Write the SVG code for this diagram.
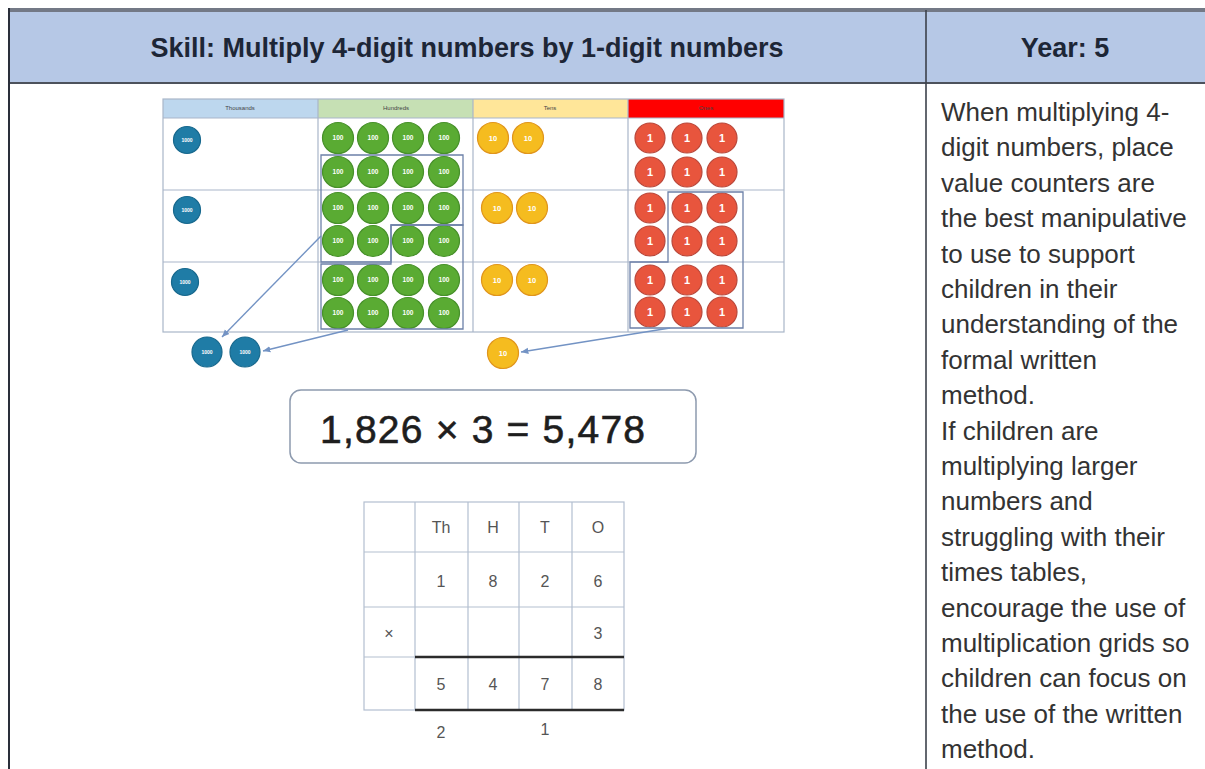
<svg xmlns="http://www.w3.org/2000/svg" width="1205" height="769" viewBox="0 0 1205 769">
<defs>
<style>
.hdr{font-family:"Liberation Sans",Arial,sans-serif;font-weight:bold;font-size:27px;fill:#1d2636;text-anchor:middle}
.note{font-family:"Liberation Sans",Arial,sans-serif;font-size:26px;fill:#333}
.grid{stroke:#a9b6c9;stroke-width:1.2;fill:none}
.colhead{font-family:"Liberation Sans",Arial,sans-serif;font-size:6px;fill:#444;text-anchor:middle}
.th{fill:#1f7ca6;stroke:#17688d;stroke-width:1.2}
.hu{fill:#5aab33;stroke:#47902a;stroke-width:1.2}
.te{fill:#f5bc1f;stroke:#e0951c;stroke-width:1.2}
.on{fill:#e8553d;stroke:#b9473a;stroke-width:1.2}
.lbl{font-family:"Liberation Sans",Arial,sans-serif;fill:#fff;font-weight:bold;text-anchor:middle}
.grp{fill:none;stroke:#6c80a8;stroke-width:1.3}
.conn{stroke:#7393c4;stroke-width:1.4;fill:none;marker-end:url(#ah)}
.cm{font-family:"Liberation Sans",Arial,sans-serif;font-size:16px;fill:#555;text-anchor:middle}
.cgrid{stroke:#b3bfd0;stroke-width:1.2;fill:none}
</style>
<marker id="ah" viewBox="0 0 8 8" refX="7" refY="4" markerWidth="6" markerHeight="6" orient="auto">
<path d="M0,1 L7,4 L0,7 z" fill="#7393c4"/>
</marker>
</defs>
<rect x="0" y="0" width="1205" height="769" fill="#ffffff"/>

<g id="header">
<rect x="9" y="10" width="1196" height="73" fill="#b6c8e6"/>
<line x1="9" y1="10" x2="1205" y2="10" stroke="#737986" stroke-width="4"/>
<line x1="9" y1="83" x2="1205" y2="83" stroke="#4d525c" stroke-width="2"/>
<line x1="9" y1="8" x2="9" y2="769" stroke="#2a2f3a" stroke-width="2"/>
<line x1="926" y1="10" x2="926" y2="769" stroke="#3c414b" stroke-width="1.6"/>
<text class="hdr" x="467" y="57">Skill: Multiply 4-digit numbers by 1-digit numbers</text>
<text class="hdr" x="1065" y="57">Year: 5</text>
</g>

<g id="place-value-chart">
<rect x="163" y="99" width="155" height="19" fill="#bdd7ee"/>
<rect x="318" y="99" width="155" height="19" fill="#c6e0b4"/>
<rect x="473" y="99" width="155" height="19" fill="#ffe699"/>
<rect x="628" y="99" width="156" height="19" fill="#ff0000"/>
<rect class="grid" x="163" y="99" width="621" height="233"/>
<line class="grid" x1="163" y1="118" x2="784" y2="118"/>
<line class="grid" x1="163" y1="190" x2="784" y2="190"/>
<line class="grid" x1="163" y1="262" x2="784" y2="262"/>
<line class="grid" x1="318" y1="99" x2="318" y2="332"/>
<line class="grid" x1="473" y1="99" x2="473" y2="332"/>
<line class="grid" x1="628" y1="99" x2="628" y2="332"/>
<text class="colhead" x="240" y="110">Thousands</text>
<text class="colhead" x="396" y="110">Hundreds</text>
<text class="colhead" x="550" y="110">Tens</text>
<text class="colhead" x="706" y="110">Ones</text>
</g>

<g id="thousands-counters">
<circle class="th" cx="187" cy="140" r="13.5"/><text class="lbl" x="187" y="142" font-size="5">1000</text>
<circle class="th" cx="187" cy="210" r="13.5"/><text class="lbl" x="187" y="212" font-size="5">1000</text>
<circle class="th" cx="185" cy="282" r="13.5"/><text class="lbl" x="185" y="284" font-size="5">1000</text>
</g>

<g id="hundreds-counters">
<g>
<circle class="hu" cx="338" cy="138" r="15.5"/><circle class="hu" cx="373" cy="138" r="15.5"/><circle class="hu" cx="408" cy="138" r="15.5"/><circle class="hu" cx="444" cy="138" r="15.5"/>
<circle class="hu" cx="338" cy="172" r="15.5"/><circle class="hu" cx="373" cy="172" r="15.5"/><circle class="hu" cx="408" cy="172" r="15.5"/><circle class="hu" cx="444" cy="172" r="15.5"/>
<circle class="hu" cx="338" cy="208" r="15.5"/><circle class="hu" cx="373" cy="208" r="15.5"/><circle class="hu" cx="408" cy="208" r="15.5"/><circle class="hu" cx="444" cy="208" r="15.5"/>
<circle class="hu" cx="338" cy="241" r="15.5"/><circle class="hu" cx="373" cy="241" r="15.5"/><circle class="hu" cx="408" cy="241" r="15.5"/><circle class="hu" cx="444" cy="241" r="15.5"/>
<circle class="hu" cx="338" cy="280" r="15.5"/><circle class="hu" cx="373" cy="280" r="15.5"/><circle class="hu" cx="408" cy="280" r="15.5"/><circle class="hu" cx="444" cy="280" r="15.5"/>
<circle class="hu" cx="338" cy="313" r="15.5"/><circle class="hu" cx="373" cy="313" r="15.5"/><circle class="hu" cx="408" cy="313" r="15.5"/><circle class="hu" cx="444" cy="313" r="15.5"/>
</g>
<g class="lbl" font-size="6.5">
<text x="338" y="140">100</text><text x="373" y="140">100</text><text x="408" y="140">100</text><text x="444" y="140">100</text>
<text x="338" y="174">100</text><text x="373" y="174">100</text><text x="408" y="174">100</text><text x="444" y="174">100</text>
<text x="338" y="210">100</text><text x="373" y="210">100</text><text x="408" y="210">100</text><text x="444" y="210">100</text>
<text x="338" y="243">100</text><text x="373" y="243">100</text><text x="408" y="243">100</text><text x="444" y="243">100</text>
<text x="338" y="282">100</text><text x="373" y="282">100</text><text x="408" y="282">100</text><text x="444" y="282">100</text>
<text x="338" y="315">100</text><text x="373" y="315">100</text><text x="408" y="315">100</text><text x="444" y="315">100</text>
</g>
<polygon class="grp" points="321,155 463,155 463,225 391,225 391,262 321,262"/>
<polygon class="grp" points="391,225 463,225 463,329 321,329 321,264 391,264"/>
</g>

<g id="tens-counters">
<circle class="te" cx="493" cy="138" r="15.5"/><circle class="te" cx="528" cy="138" r="15.5"/>
<circle class="te" cx="497" cy="208" r="15.5"/><circle class="te" cx="532" cy="208" r="15.5"/>
<circle class="te" cx="497" cy="280" r="15.5"/><circle class="te" cx="532" cy="280" r="15.5"/>
<g class="lbl" font-size="7.5">
<text x="493" y="141">10</text><text x="528" y="141">10</text>
<text x="497" y="211">10</text><text x="532" y="211">10</text>
<text x="497" y="283">10</text><text x="532" y="283">10</text>
</g>
</g>

<g id="ones-counters">
<circle class="on" cx="650" cy="138" r="15"/><circle class="on" cx="687" cy="138" r="15"/><circle class="on" cx="722" cy="138" r="15"/>
<circle class="on" cx="650" cy="172" r="15"/><circle class="on" cx="687" cy="172" r="15"/><circle class="on" cx="722" cy="172" r="15"/>
<circle class="on" cx="650" cy="208" r="15"/><circle class="on" cx="687" cy="208" r="15"/><circle class="on" cx="722" cy="208" r="15"/>
<circle class="on" cx="650" cy="241" r="15"/><circle class="on" cx="687" cy="241" r="15"/><circle class="on" cx="722" cy="241" r="15"/>
<circle class="on" cx="650" cy="280" r="15"/><circle class="on" cx="687" cy="280" r="15"/><circle class="on" cx="722" cy="280" r="15"/>
<circle class="on" cx="650" cy="312" r="15"/><circle class="on" cx="687" cy="312" r="15"/><circle class="on" cx="722" cy="312" r="15"/>
<g class="lbl" font-size="11" fill="#fff4d0">
<text x="650" y="142">1</text><text x="687" y="142">1</text><text x="722" y="142">1</text>
<text x="650" y="176">1</text><text x="687" y="176">1</text><text x="722" y="176">1</text>
<text x="650" y="212">1</text><text x="687" y="212">1</text><text x="722" y="212">1</text>
<text x="650" y="245">1</text><text x="687" y="245">1</text><text x="722" y="245">1</text>
<text x="650" y="284">1</text><text x="687" y="284">1</text><text x="722" y="284">1</text>
<text x="650" y="316">1</text><text x="687" y="316">1</text><text x="722" y="316">1</text>
</g>
<polygon class="grp" points="668,192 743,192 743,328 630,328 630,262 668,262"/>
</g>

<g id="exchanged-counters">
<circle class="th" cx="207" cy="352" r="15"/><text class="lbl" x="207" y="354" font-size="5">1000</text>
<circle class="th" cx="245" cy="352" r="15"/><text class="lbl" x="245" y="354" font-size="5">1000</text>
<circle class="te" cx="503" cy="353" r="15.5"/><text class="lbl" x="503" y="356" font-size="7.5">10</text>
</g>

<g id="connectors">
<line class="conn" x1="321" y1="236" x2="222" y2="337"/>
<line class="conn" x1="348" y1="330" x2="263" y2="351"/>
<line class="conn" x1="670" y1="328" x2="521" y2="352"/>
</g>

<g id="equation">
<rect x="290" y="390" width="406" height="73" rx="11" fill="#fff" stroke="#8d9aae" stroke-width="1.5"/>
<text x="320" y="443" font-family="'Liberation Sans',Arial,sans-serif" font-size="39" fill="#1e1e1e" stroke="#1e1e1e" stroke-width="0.6" textLength="325" lengthAdjust="spacing">1,826 × 3 = 5,478</text>
</g>

<g id="column-method">
<rect class="cgrid" x="364" y="502" width="260" height="208"/>
<line class="cgrid" x1="364" y1="552" x2="624" y2="552"/>
<line class="cgrid" x1="364" y1="607" x2="624" y2="607"/>
<line class="cgrid" x1="364" y1="657" x2="415" y2="657"/>
<line class="cgrid" x1="415" y1="502" x2="415" y2="710"/>
<line class="cgrid" x1="468" y1="502" x2="468" y2="710"/>
<line class="cgrid" x1="519" y1="502" x2="519" y2="710"/>
<line class="cgrid" x1="572" y1="502" x2="572" y2="710"/>
<line x1="415" y1="657" x2="624" y2="657" stroke="#2b2b2b" stroke-width="2.5"/>
<line x1="415" y1="710" x2="624" y2="710" stroke="#2b2b2b" stroke-width="2.5"/>
<text class="cm" x="441" y="533">Th</text><text class="cm" x="493" y="533">H</text><text class="cm" x="545" y="533">T</text><text class="cm" x="598" y="533">O</text>
<text class="cm" x="441" y="587">1</text><text class="cm" x="493" y="587">8</text><text class="cm" x="545" y="587">2</text><text class="cm" x="598" y="587">6</text>
<text class="cm" x="389" y="639">×</text><text class="cm" x="598" y="639">3</text>
<text class="cm" x="441" y="690">5</text><text class="cm" x="493" y="690">4</text><text class="cm" x="545" y="690">7</text><text class="cm" x="598" y="690">8</text>
<text class="cm" x="441" y="738">2</text><text class="cm" x="545" y="735">1</text>
</g>

<g id="notes">
<text class="note" x="941" y="121">When multiplying 4-</text>
<text class="note" x="941" y="156.4">digit numbers, place</text>
<text class="note" x="941" y="191.8">value counters are</text>
<text class="note" x="941" y="227.2">the best manipulative</text>
<text class="note" x="941" y="262.6">to use to support</text>
<text class="note" x="941" y="298">children in their</text>
<text class="note" x="941" y="333.4">understanding of the</text>
<text class="note" x="941" y="368.8">formal written</text>
<text class="note" x="941" y="404.2">method.</text>
<text class="note" x="941" y="439.6">If children are</text>
<text class="note" x="941" y="475">multiplying larger</text>
<text class="note" x="941" y="510.4">numbers and</text>
<text class="note" x="941" y="545.8">struggling with their</text>
<text class="note" x="941" y="581.2">times tables,</text>
<text class="note" x="941" y="616.6">encourage the use of</text>
<text class="note" x="941" y="652">multiplication grids so</text>
<text class="note" x="941" y="687.4">children can focus on</text>
<text class="note" x="941" y="722.8">the use of the written</text>
<text class="note" x="941" y="758.2">method.</text>
</g>
</svg>
